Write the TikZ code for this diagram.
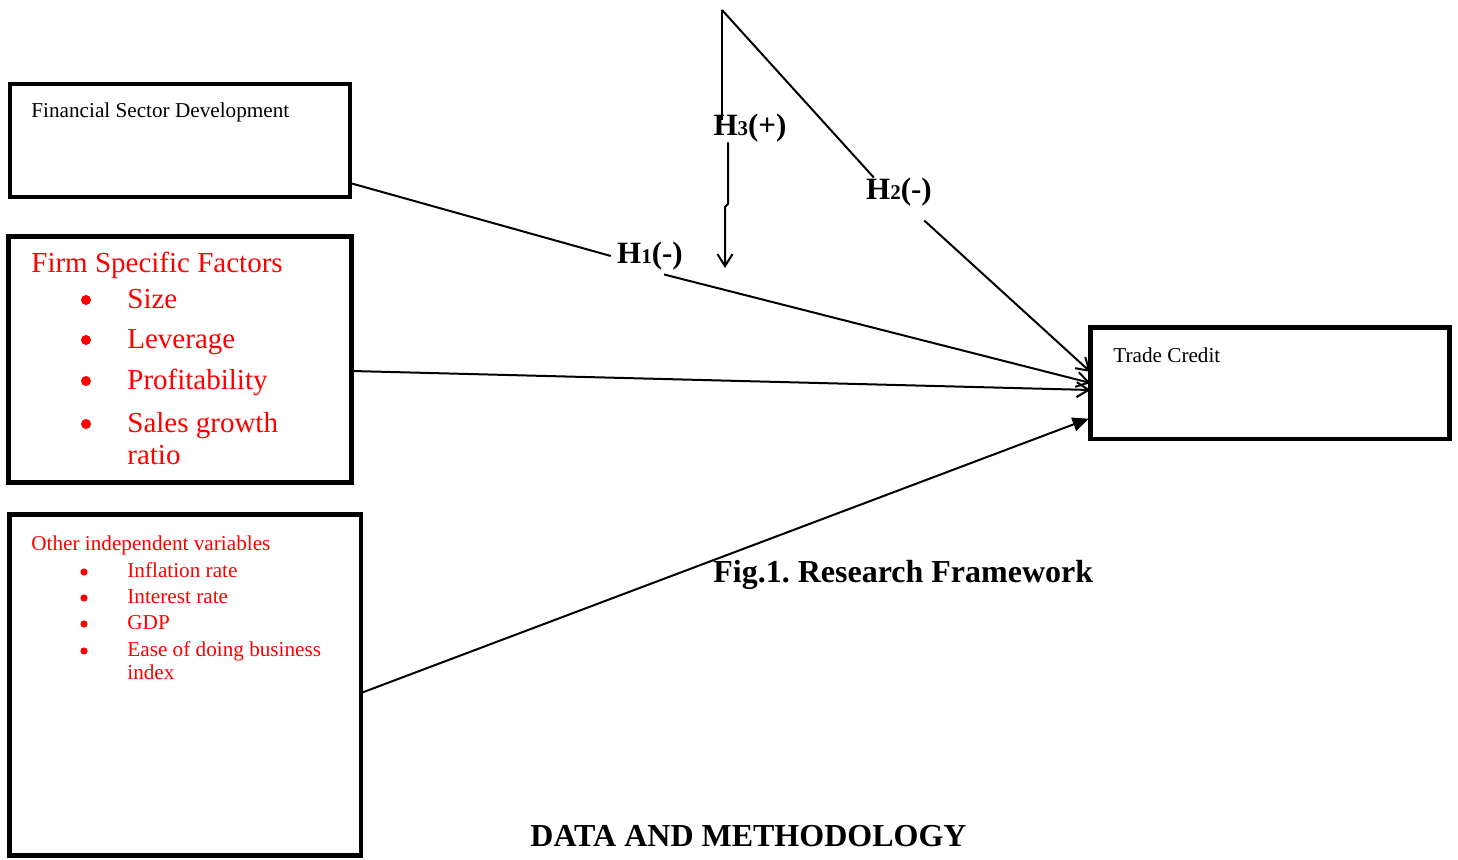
\documentclass[tikz,border=0pt]{standalone}
\usepackage{fontspec}
\setmainfont{Liberation Serif}
\usetikzlibrary{arrows.meta,positioning}

\newcommand{\hyplabel}[2]{H{\fontsize{10.5}{12}\selectfont #1}#2}
\frenchspacing

\tikzset{
  box/.style={draw, line width=2.2pt, outer sep=0pt, inner sep=0pt, anchor=north west},
  link/.style={line width=1pt},
  openarrow/.style={-{Straight Barb[length=6pt,width=7.5pt]}},
  filledarrow/.style={-{Triangle[length=8pt,width=7pt]}},
  smalltext/.style={font=\fontsize{10.6}{12}\selectfont, anchor=base west, inner sep=0pt},
  bigtext/.style={font=\fontsize{14.5}{17}\selectfont, anchor=base west, inner sep=0pt, text=red},
  dot/.style={circle, fill=red, inner sep=0pt},
  hyp/.style={font=\fontsize{15.5}{18}\selectfont\bfseries, inner sep=3pt, fill=white},
  caption/.style={font=\fontsize{16}{19}\selectfont\bfseries, anchor=base west, inner sep=0pt}
}

\begin{document}
\begin{tikzpicture}[x=0.5pt, y=-0.5pt]
        \useasboundingbox (0,0) rectangle (1458,860);

        % Boxes
        \node[box, minimum width=170pt, minimum height=56.5pt] (fsd) at (10,84) {};
        \node[box, minimum width=171.5pt, minimum height=123pt] (firm) at (8.5,236.5) {};
        \node[box, minimum width=175.75pt, minimum height=170.5pt] (other) at (9.5,514.5) {};
        \node[box, minimum width=179.5pt, minimum height=55.75pt] (tc) at (1090.5,327.5) {};

        % Box texts
        \node[smalltext] (fsdtext) at (31,118) {Financial Sector Development};
        \node[smalltext] (tctext) at (1113,363) {Trade Credit};

        % Firm specific factors
        \node[bigtext] (firmtitle) at (31,273) {Firm Specific Factors};
        \foreach \item/\yy [count=\i] in {Size/309, Leverage/349, Profitability/390, Sales growth/433} {
          \node[dot, minimum size=5pt] (fb\i) at (86,\yy-9) {};
          \node[bigtext] (fi\i) at (127,\yy) {\item};
        }
        \node[bigtext] (fi5) at (127,465) {ratio};

        % Other independent variables
        \node[smalltext, text=red] (othertitle) at (31,551) {Other independent variables};
        \foreach \item/\yy [count=\i] in {Inflation rate/578, Interest rate/604, GDP/630, Ease of doing business/657} {
          \node[dot, minimum size=3.6pt] (ob\i) at (84,\yy-6) {};
          \node[smalltext, text=red] (oi\i) at (127,\yy) {\item};
        }
        \node[smalltext, text=red] (oi5) at (127,680) {index};

        % Hypothesis labels
        \node[hyp] (h1) at (650,256) {\hyplabel{1}{(-)}};
        \node[hyp, fill=none] (h2) at (899,192) {\hyplabel{2}{(-)}};
        \node[hyp, fill=none, inner sep=0pt] (h3) at (750,128) {\hyplabel{3}{(+)}};
        \coordinate (apex) at (722,10);
        \coordinate (h3end) at (725,268);

        % H1
        \draw[link] (fsd.east |- 0,183) -- (h1.west);
        \draw[link, openarrow] ([xshift=7pt,yshift=1pt]h1.south) -- (tc.west |- 0,383);

        % firm factors
        \draw[link, openarrow] (firm.east |- 0,371) -- (tc.west |- 0,390);

        % other variables
        \draw[link, filledarrow, shorten >=1pt] (other.east |- 0,693) -- (tc.west |- 0,418);

        % H2
        \draw[link] (apex) -- ([xshift=7pt,yshift=-3pt]h2.north west);
        \draw[link, openarrow] ([xshift=-7pt,yshift=-4pt]h2.south east) -- (tc.west |- 0,372);

        % H3
        \draw[link] (apex) -- ([yshift=-3pt]apex |- h3.north);
        \draw[link, openarrow] ([xshift=-11pt]h3.south) -- (728,204) -- (725,207) -- (h3end);

        % Captions
        \node[caption] (fig) at (713,583) {Fig.1. Research Framework};
        \node[caption] (data) at (530,847) {DATA AND METHODOLOGY};

      \end{tikzpicture}
\end{document}
